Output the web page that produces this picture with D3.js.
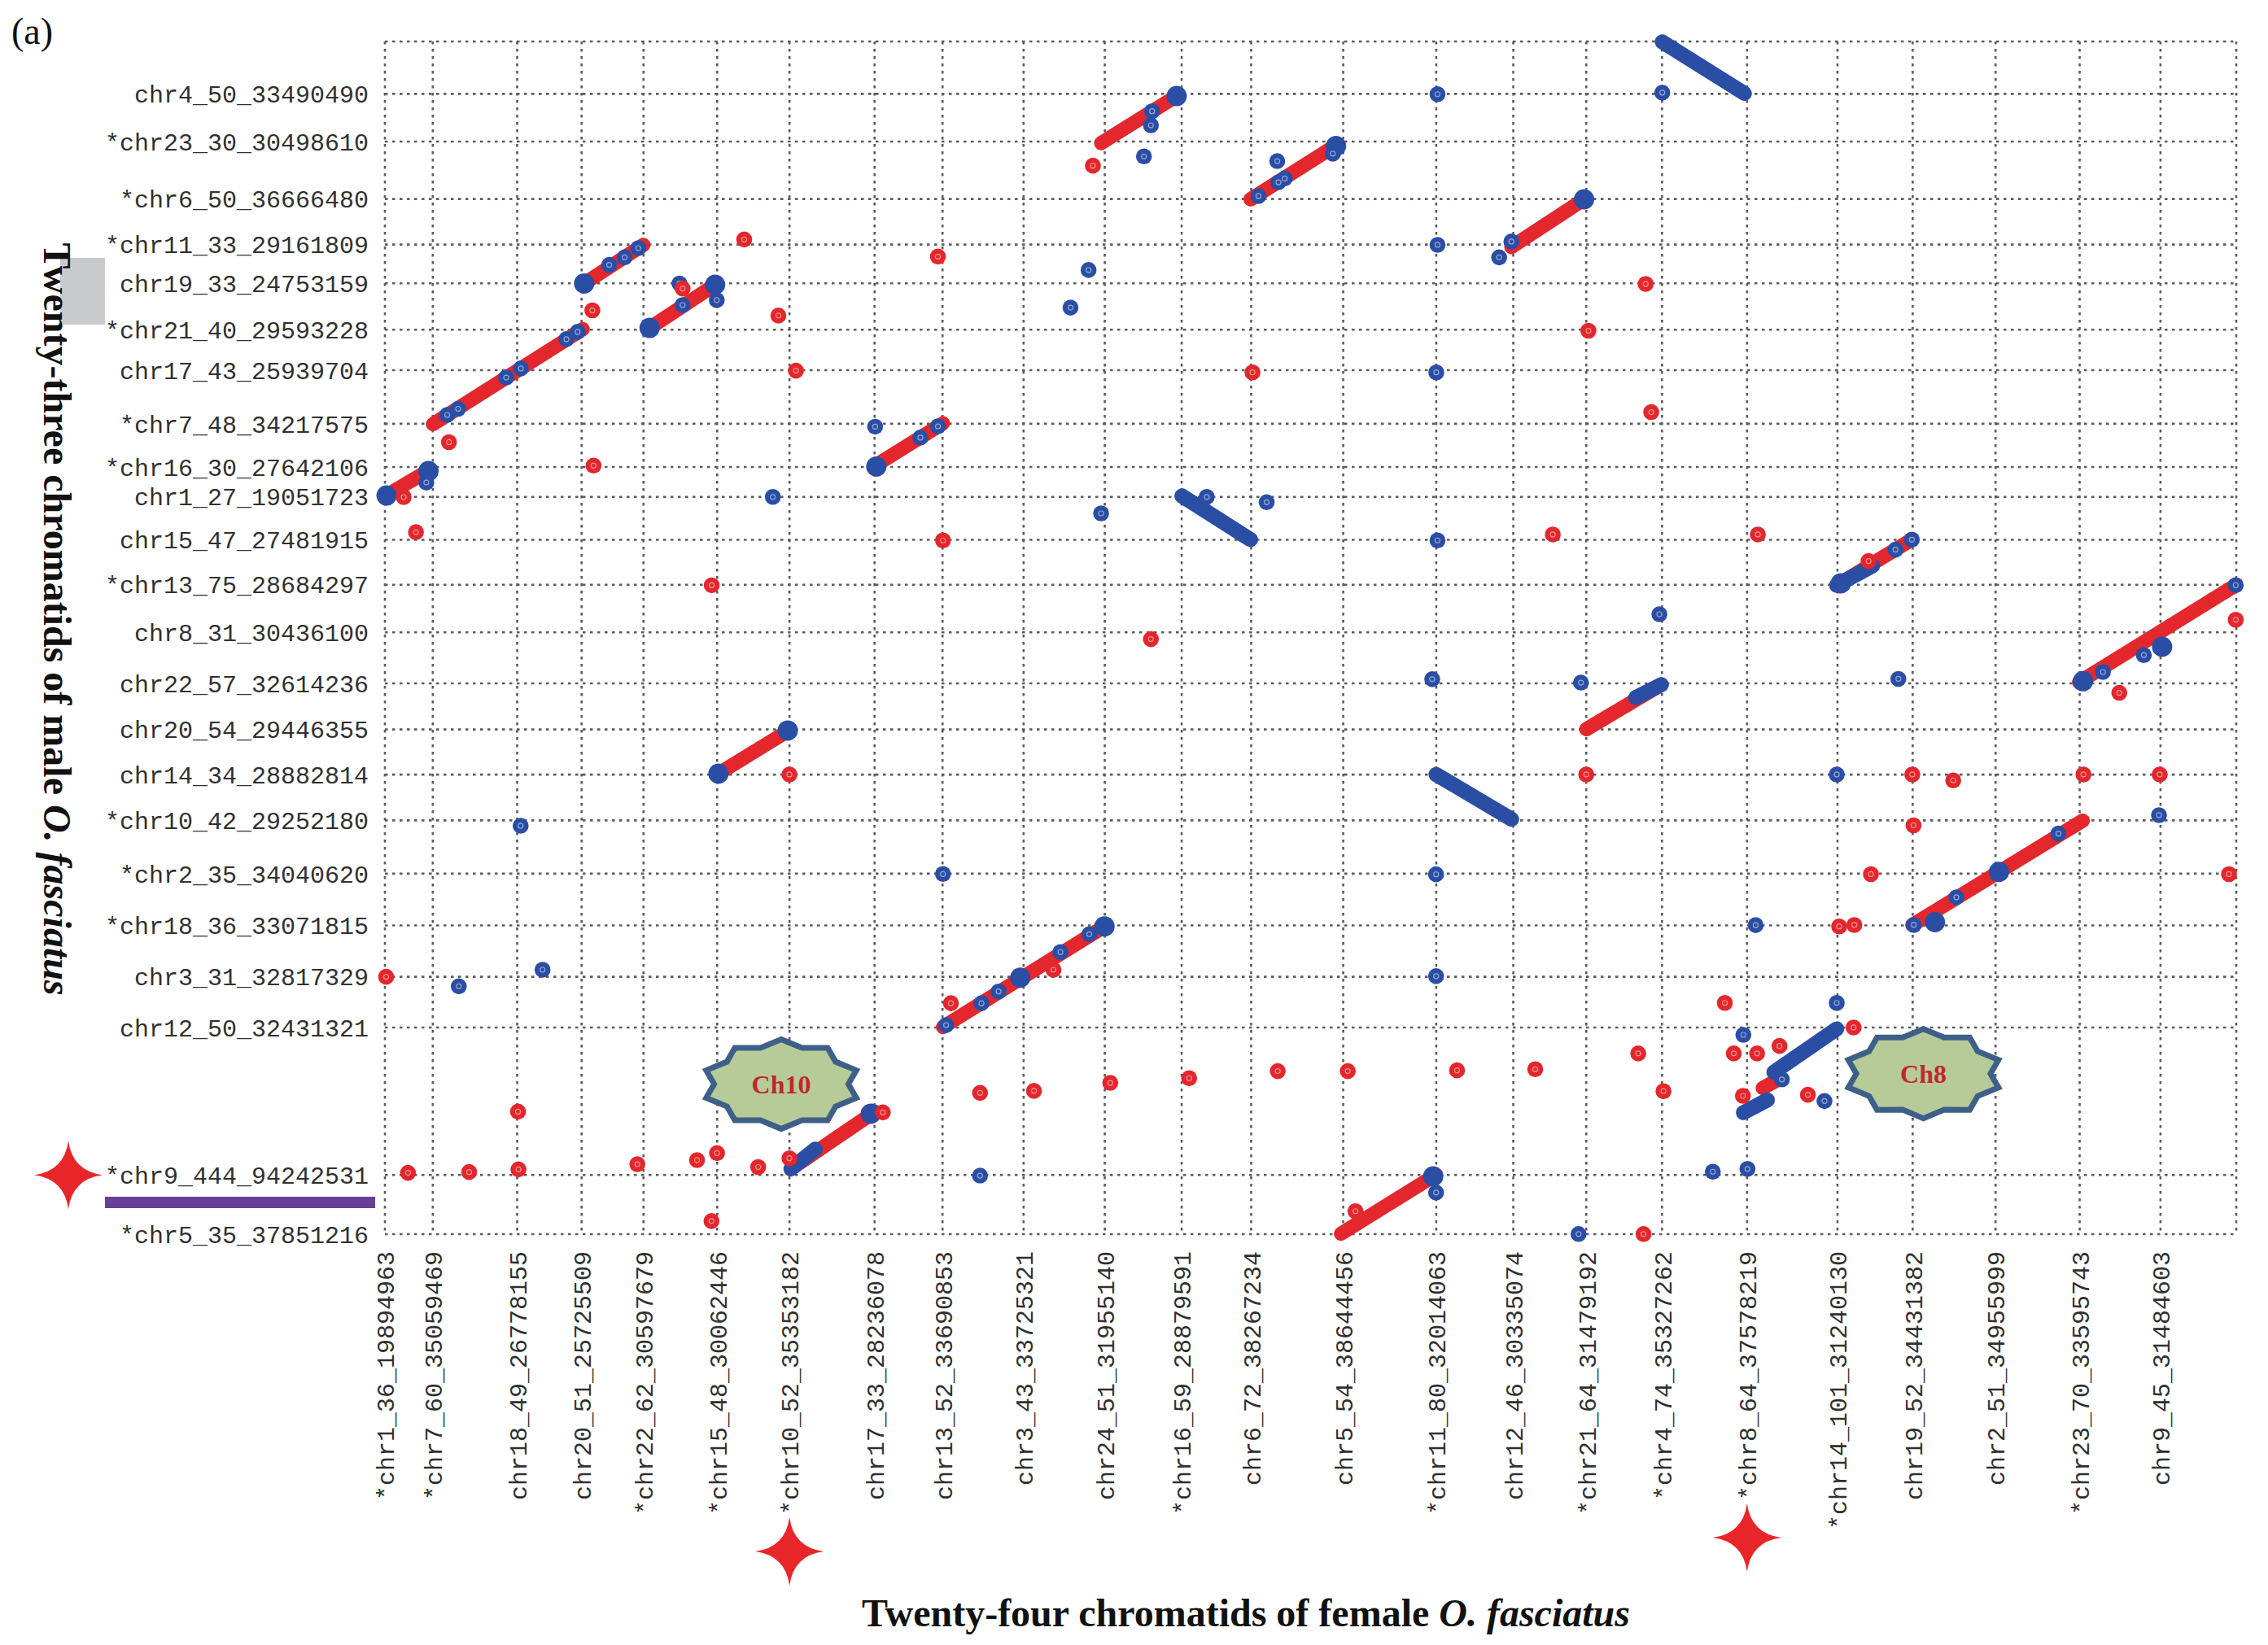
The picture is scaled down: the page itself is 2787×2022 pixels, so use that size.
<!DOCTYPE html>
<html>
<head>
<meta charset="utf-8">
<script src="https://cdn.jsdelivr.net/npm/d3@7"></script>
<style>
  html, body { margin: 0; padding: 0; background: #ffffff; }
  svg { display: block; }
</style>
</head>
<body>
<svg id="chart" width="2787" height="2022"></svg>
<script>
// ---------------- DATA ----------------
// Female chromatids (x axis), left to right
const xLabels = ["*chr1_36_19894963","*chr7_60_35059469","chr18_49_26778155","chr20_51_25725509",
  "*chr22_62_30597679","*chr15_48_30062446","*chr10_52_35353182","chr17_33_28236078",
  "chr13_52_33690853","chr3_43_33725321","chr24_51_31955140","*chr16_59_28879591",
  "chr6_72_38267234","chr5_54_38644456","*chr11_80_32014063","chr12_46_30335074",
  "*chr21_64_31479192","*chr4_74_35327262","*chr8_64_37578219","*chr14_101_31240130",
  "chr19_52_34431382","chr2_51_34955999","*chr23_70_33595743","chr9_45_31484603"];
const xLengths = [19.894963,35.059469,26.778155,25.725509,30.597679,30.062446,35.353182,28.236078,
  33.690853,33.725321,31.955140,28.879591,38.267234,38.644456,32.014063,30.335074,
  31.479192,35.327262,37.578219,31.240130,34.431382,34.955999,33.595743,31.484603];

// Male chromatids (y axis), top to bottom
const yLabels = ["chr4_50_33490490","*chr23_30_30498610","*chr6_50_36666480","*chr11_33_29161809",
  "chr19_33_24753159","*chr21_40_29593228","chr17_43_25939704","*chr7_48_34217575",
  "*chr16_30_27642106","chr1_27_19051723","chr15_47_27481915","*chr13_75_28684297",
  "chr8_31_30436100","chr22_57_32614236","chr20_54_29446355","chr14_34_28882814",
  "*chr10_42_29252180","*chr2_35_34040620","*chr18_36_33071815","chr3_31_32817329",
  "chr12_50_32431321","*chr9_444_94242531","*chr5_35_37851216"];
const yLengths = [33.490490,30.498610,36.666480,29.161809,24.753159,29.593228,25.939704,34.217575,
  27.642106,19.051723,27.481915,28.684297,30.436100,32.614236,29.446355,28.882814,
  29.252180,34.040620,33.071815,32.817329,32.431321,94.242531,37.851216];

// Alignment runs, cumulative Mb [xStart, yStart, xEnd, yEnd]
const redSegments = [
  [0,471.6,18.3,488.2],[19.95,517.7,82.2,578.4],[82.8,607.6,107.4,632.3],[110.0,579.2,137.2,606.8],
  [203.7,491.2,231.9,518.2],[297.6,697.3,329.9,728.3],[359.7,661.4,395.2,695.9],[468.1,630.9,498.3,661.4],
  [603.3,414.7,634.5,443.9],[704.0,352.8,769.1,414.8],[138.0,293.8,168.1,322.2],[168.7,41.7,203.6,78.3],
  [231.9,132.4,299.0,196.7],[499.2,322.7,530.4,351.2],[634.7,197.6,705.5,264.3],[572.5,93.4,578.5,98.4],
  [397.3,0.3,436.8,38.0]
];
const blueSegments = [
  [331.2,471.8,359.7,443.9],[530.8,762.0,564.9,729.1],[436.8,293.8,468.2,265.2],
  [603.3,414.7,618.2,427.2],[168.7,41.7,178.8,54.3],[519.7,342.9,530.4,351.2],
  [564.5,77.7,574.5,85.8],[577.2,103.5,603.3,131.2]
];
// Dense clusters of blue hits
const blueClusters = [
  [0.7,472.1],[18.1,487.7],[82.8,607.6],[110.0,579.2],[137.2,606.8],[204.2,490.6],[329.0,727.4],
  [395.2,695.4],[498.3,661.4],[138.6,294.3],[167.4,321.9],[201.9,77.0],[299.0,196.7],[264.0,163.9],
  [644.1,199.4],[670.7,231.5],[705.6,353.4],[738.5,375.4],[435.6,36.9],[605.0,416.0]
];
// Single blue hits
const blueDots = [
  [17.2,480.4],[25.9,523.6],[30.4,527.5],[50.4,547.5],[56.5,553.3],[75.4,572.0],[80.1,576.7],
  [93.2,619.5],[99.6,624.3],[105.3,630.2],[122.4,607.6],[123.7,593.8],[137.9,597.0],
  [161.2,471.2],[292.4,616.2],[284.9,592.2],[315.4,688.8],[318.3,708.7],[297.6,460.7],[341.5,471.2],[366.4,467.8],
  [222.5,509.1],[229.8,516.3],[203.7,516.1],[318.8,717.7],
  [363.0,663.5],[371.3,672.3],[373.9,674.7],[370.8,685.8],[393.9,690.6],
  [437.4,728.6],[530.8,729.6],[468.1,634.4],[463.0,624.3],[437.4,632.3],[436.9,550.8],[437.4,443.4],
  [627.7,437.5],[634.5,443.9],[529.6,396.2],[713.9,359.3],[730.9,370.1],[769.1,414.8],[628.9,354.9],
  [56.4,261.0],[30.7,158.4],[65.5,169.0],
  [233.2,133.6],[247.9,147.6],[255.0,155.1],[280.7,180.3],[292.7,191.7],[231.9,230.2],[247.3,37.4],
  [435.2,354.7],[497.0,352.5],[603.3,293.8],[436.8,230.0],[436.8,164.9],[569.6,197.5],[603.3,147.8],
  [635.3,197.6],[653.0,215.3],[695.4,256.0],[737.2,267.8],
  [564.5,127.4],[598.2,85.1],[580.5,98.9],[551.8,39.9],[566.2,41.7],[496.0,0.1],[436.8,26.6]
];
// Single red hits
const redDots = [
  [7.8,471.1],[12.9,448.7],[26.6,506.2],[86.2,590.4],[86.7,491.2],[123.7,604.4],
  [149.3,635.7],[163.5,587.1],[170.8,551.9],[135.8,414.7],[229.8,624.8],[231.9,443.4],[294.2,682.9],
  [318.3,380.3],[360.5,550.8],[523.9,607.3],[500.1,577.4],[526.2,525.4],[485.3,447.2],[570.5,447.2],
  [616.5,430.2],[720.7,346.0],[769.1,392.7],[168.1,293.8],[0.5,164.5],[55.3,78.3],
  [9.6,39.2],[35.0,39.7],[55.5,41.4],[104.9,44.7],[129.7,47.3],[138.0,51.8],[155.1,42.9],[168.1,48.5],
  [135.7,8.4],[206.9,77.8],[235.2,147.6],[277.8,169.0],
  [247.3,90.3],[269.7,91.6],[301.4,96.7],[334.2,99.7],[371.0,104.2],[400.1,104.2],
  [445.5,104.7],[478.0,105.4],[520.8,115.5],[531.3,91.4],[499.2,293.8],
  [604.3,196.7],[610.6,197.6],[556.8,147.8],[610.3,132.1],[617.5,230.1],[766.3,230.1],[635.2,261.3],
  [634.7,293.8],[651.7,290.0],[705.8,293.8],[737.5,293.8],
  [560.5,115.5],[570.2,115.5],[579.5,120.3],[564.3,88.4],[591.3,89.1],[523.0,0.1],[403.3,14.7]
];
// Annotation badges (label, x Mb, y Mb)
const badgeLabels = ["Ch10","Ch8"];
const badgeX = [164.7, 639.3];
const badgeY = [95.9, 102.6];

// ---------------- LAYOUT ----------------
const svg = d3.select("#chart");
const L = 473, R = 2748, T = 51, B = 1517;
const RED = "#e3272c", BLUE = "#2b4ea5";

const xStarts = []; { let s = 0; xLengths.forEach(v => { xStarts.push(s); s += v; }); }
const xTotal = d3.sum(xLengths);
const yBottomLabels = yLabels.slice().reverse();
const yBottomLengths = yLengths.slice().reverse();
const yStarts = []; { let s = 0; yBottomLengths.forEach(v => { yStarts.push(s); s += v; }); }
const yTotal = d3.sum(yLengths);

const x = d3.scaleLinear().domain([0, xTotal]).range([L, R]);
const y = d3.scaleLinear().domain([0, yTotal]).range([B, T]);

svg.append("rect").attr("width", 2787).attr("height", 2022).attr("fill", "#fff");

// grid
const grid = svg.append("g").attr("stroke", "#5c5c5c").attr("stroke-width", 2.6)
  .attr("stroke-dasharray", "3.5,5.5").attr("fill", "none");
grid.selectAll("line.v").data(xStarts.concat([xTotal])).join("line")
  .attr("x1", d => x(d)).attr("x2", d => x(d)).attr("y1", T).attr("y2", B);
grid.selectAll("line.h").data(yStarts.concat([yTotal])).join("line").attr("class","h")
  .attr("y1", d => y(d)).attr("y2", d => y(d)).attr("x1", L).attr("x2", R);

// axes
const xAxis = d3.axisBottom(x).tickValues(xStarts).tickFormat((d, i) => xLabels[i]).tickSize(0);
const gx = svg.append("g").attr("transform", `translate(0,${B})`).call(xAxis);
gx.select(".domain").remove();
gx.selectAll("text").attr("transform", "rotate(-90)").attr("x", -21).attr("y", 0)
  .attr("dy", "0.36em").style("text-anchor", "end");
gx.attr("font-family", "'Liberation Mono', 'DejaVu Sans Mono', monospace").attr("font-size", 30)
  .selectAll("text").attr("fill", "#303030");

const yAxis = d3.axisLeft(y).tickValues(yStarts).tickFormat((d, i) => yBottomLabels[i]).tickSize(0).tickPadding(20);
const gy = svg.append("g").attr("transform", `translate(${L},0)`).call(yAxis);
gy.select(".domain").remove();
gy.attr("font-family", "'Liberation Mono', 'DejaVu Sans Mono', monospace").attr("font-size", 30)
  .selectAll("text").attr("fill", "#303030").attr("dy", "0.34em");

// marks
const LW = 17.5;
svg.append("g").selectAll("line").data(redSegments).join("line")
  .attr("x1", d => x(d[0])).attr("y1", d => y(d[1])).attr("x2", d => x(d[2])).attr("y2", d => y(d[3]))
  .attr("stroke", RED).attr("stroke-width", LW).attr("stroke-linecap", "round");
svg.append("g").selectAll("line").data(blueSegments).join("line")
  .attr("x1", d => x(d[0])).attr("y1", d => y(d[1])).attr("x2", d => x(d[2])).attr("y2", d => y(d[3]))
  .attr("stroke", BLUE).attr("stroke-width", LW + 1).attr("stroke-linecap", "round");

function dots(data, color, r) {
  const g = svg.append("g");
  g.selectAll("circle.o").data(data).join("circle").attr("class", "o")
    .attr("cx", d => x(d[0])).attr("cy", d => y(d[1])).attr("r", r).attr("fill", color);
  g.selectAll("circle.i").data(data).join("circle").attr("class", "i")
    .attr("cx", d => x(d[0])).attr("cy", d => y(d[1])).attr("r", 3)
    .attr("fill", "none").attr("stroke", "rgba(255,255,255,0.5)").attr("stroke-width", 1.2);
}
svg.append("g").selectAll("circle").data(blueClusters).join("circle")
  .attr("cx", d => x(d[0])).attr("cy", d => y(d[1])).attr("r", 12.5).attr("fill", BLUE);
dots(blueDots, BLUE, 9.8);
dots(redDots, RED, 9.8);

// badges
function star10(cx, cy, rx, ry, inner) {
  const p = [];
  for (let i = 0; i < 20; i++) {
    const a = (90 - i * 18) * Math.PI / 180, r = i % 2 ? inner : 1;
    p.push([cx + rx * r * Math.cos(a), cy - ry * r * Math.sin(a)]);
  }
  return "M" + p.map(q => q[0].toFixed(1) + "," + q[1].toFixed(1)).join("L") + "Z";
}
badgeLabels.forEach((lab, i) => {
  const cx = x(badgeX[i]), cy = y(badgeY[i]);
  svg.append("path").attr("d", star10(cx, cy, 97, 55, 0.85))
    .attr("fill", "#b6cb98").attr("stroke", "#3e6088").attr("stroke-width", 7).attr("stroke-linejoin", "miter");
  svg.append("text").attr("x", cx).attr("y", cy).attr("dy", "0.35em").attr("text-anchor", "middle")
    .attr("font-family", "'Liberation Serif', serif").attr("font-weight", "bold").attr("font-size", 32)
    .attr("fill", "#c1272d").text(lab);
});

// sparkle markers
function sparkle(cx, cy, R, c) {
  return `M${cx},${cy - R} Q${cx + c},${cy - c} ${cx + R},${cy} Q${cx + c},${cy + c} ${cx},${cy + R} ` +
         `Q${cx - c},${cy + c} ${cx - R},${cy} Q${cx - c},${cy - c} ${cx},${cy - R}Z`;
}
const chr9y = y(yStarts[yBottomLabels.indexOf("*chr9_444_94242531")]);
svg.append("path").attr("d", sparkle(84, chr9y, 42, 5)).attr("fill", "#e8262a");
svg.append("path").attr("d", sparkle(x(xStarts[xLabels.indexOf("*chr10_52_35353182")]), 1907, 42, 5)).attr("fill", "#e8262a");
svg.append("path").attr("d", sparkle(x(xStarts[xLabels.indexOf("*chr8_64_37578219")]), 1890, 42, 5)).attr("fill", "#e8262a");

// purple bar
svg.append("rect").attr("x", 129).attr("y", 1471).attr("width", 332).attr("height", 14).attr("fill", "#673f98");
// grey box
svg.append("rect").attr("x", 74).attr("y", 317).attr("width", 55).attr("height", 82).attr("fill", "#c9cacc");

// titles
const ty = svg.append("text").attr("transform", "translate(54,761) rotate(90)").attr("text-anchor", "middle")
  .attr("font-family", "'Liberation Serif', serif").attr("font-weight", "bold").attr("font-size", 48).attr("fill", "#111");
ty.append("tspan").text("Twenty-three chromatids of male ");
ty.append("tspan").attr("font-style", "italic").text("O. fasciatus");

const tx = svg.append("text").attr("x", 1531).attr("y", 1999).attr("text-anchor", "middle")
  .attr("font-family", "'Liberation Serif', serif").attr("font-weight", "bold").attr("font-size", 48).attr("fill", "#111");
tx.append("tspan").text("Twenty-four chromatids of female ");
tx.append("tspan").attr("font-style", "italic").text("O. fasciatus");

svg.append("text").attr("x", 14).attr("y", 54).attr("font-family", "'Liberation Serif', serif")
  .attr("font-size", 46).attr("fill", "#111").text("(a)");
</script>
</body>
</html>
